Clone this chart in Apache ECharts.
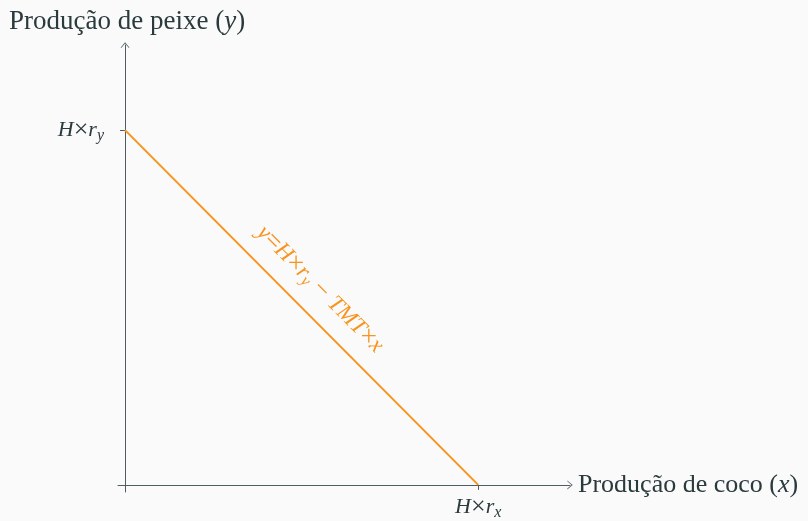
<!DOCTYPE html>
<html>
<head>
<meta charset="utf-8">
<script src="https://cdn.jsdelivr.net/npm/echarts@6/dist/echarts.min.js"></script>
<style>
  html, body { margin: 0; padding: 0; background: #fafafa; }
  #chart { width: 808px; height: 521px; }
</style>
</head>
<body>
<div id="chart"></div>
<script>
// production possibility frontier, values in units of H*r
const frontierX = [0, 1];
const frontierY = [1, 0];
const xTicks = [1];
const yTicks = [1];

const serif = "'Liberation Serif', 'DejaVu Serif', serif";
const ink = "#2b3a3c";
const axisColor = "#4e5d61";
const orange = "#f7941d";
const arrowPath = "path://M0,6 L5,0 L10,6 L9,6 L5,1.4 L1,6 Z";

const rich = {
  i: { fontStyle: "italic", fontFamily: serif, fontSize: 22, color: ink },
  n: { fontFamily: serif, fontSize: 26, color: ink },
  sub: { fontStyle: "italic", fontFamily: serif, fontSize: 16, color: ink, padding: [12, 0, 0, 0] }
};

const chart = echarts.init(document.getElementById("chart"));
const points = frontierX.map((x, i) => [x, frontierY[i]]);

chart.setOption({
  backgroundColor: "#fafafa",
  animation: false,
  title: {
    text: "Produção de peixe ({i|y})",
    left: 4,
    top: 3,
    textStyle: {
      fontFamily: serif,
      fontSize: 27,
      fontWeight: "normal",
      color: ink,
      rich: { i: { fontFamily: serif, fontSize: 27, fontStyle: "italic", color: ink } }
    }
  },
  grid: { left: 118, right: 238, top: 45, bottom: 29, outerBoundsMode: "none" },
  xAxis: {
    type: "value",
    min: -0.02,
    max: 1.26,
    name: "Produção de coco ({i|x})",
    nameLocation: "end",
    nameGap: 8,
    nameTextStyle: {
      fontFamily: serif,
      fontSize: 26,
      color: ink,
      verticalAlign: "middle",
      rich: { i: { fontFamily: serif, fontSize: 26, fontStyle: "italic", color: ink } }
    },
    splitLine: { show: false },
    axisLine: {
      onZero: true,
      symbol: ["none", arrowPath],
      symbolSize: [9, 6],
      lineStyle: { color: axisColor, width: 1 }
    },
    axisTick: {
      customValues: xTicks,
      length: 5,
      lineStyle: { color: axisColor }
    },
    axisLabel: {
      customValues: xTicks,
      margin: 1,
      formatter: () => "{i|H}{n|×}{i|r}{sub|x}",
      rich: rich
    }
  },
  yAxis: {
    type: "value",
    min: -0.02,
    max: 1.24,
    splitLine: { show: false },
    axisLine: {
      onZero: true,
      symbol: ["none", arrowPath],
      symbolSize: [9, 6],
      lineStyle: { color: axisColor, width: 1 }
    },
    axisTick: {
      customValues: yTicks,
      length: 5,
      lineStyle: { color: axisColor }
    },
    axisLabel: {
      customValues: yTicks,
      margin: 14,
      formatter: () => "{i|H}{n|×}{i|r}{sub|y}",
      rich: rich
    }
  },
  series: [
    {
      type: "line",
      data: points,
      symbol: "none",
      lineStyle: { color: orange, width: 2 },
      markLine: {
        silent: true,
        symbol: "none",
        lineStyle: { color: "rgba(0,0,0,0)", width: 0 },
        label: {
          show: true,
          position: "middle",
          distance: 13,
          formatter: "{i|y}{n|=}{i|H}{n|×}{i|r}{sub|y}{n| − }{i|TMT}{n|×}{i|x}",
          rich: {
            i: { fontStyle: "italic", fontFamily: serif, fontSize: 23, color: orange },
            n: { fontFamily: serif, fontSize: 26, color: orange },
            sub: { fontStyle: "italic", fontFamily: serif, fontSize: 16, color: orange, padding: [10, 0, 0, 0] }
          }
        },
        data: [[{ coord: points[0] }, { coord: points[1] }]]
      }
    }
  ]
});
</script>
</body>
</html>
